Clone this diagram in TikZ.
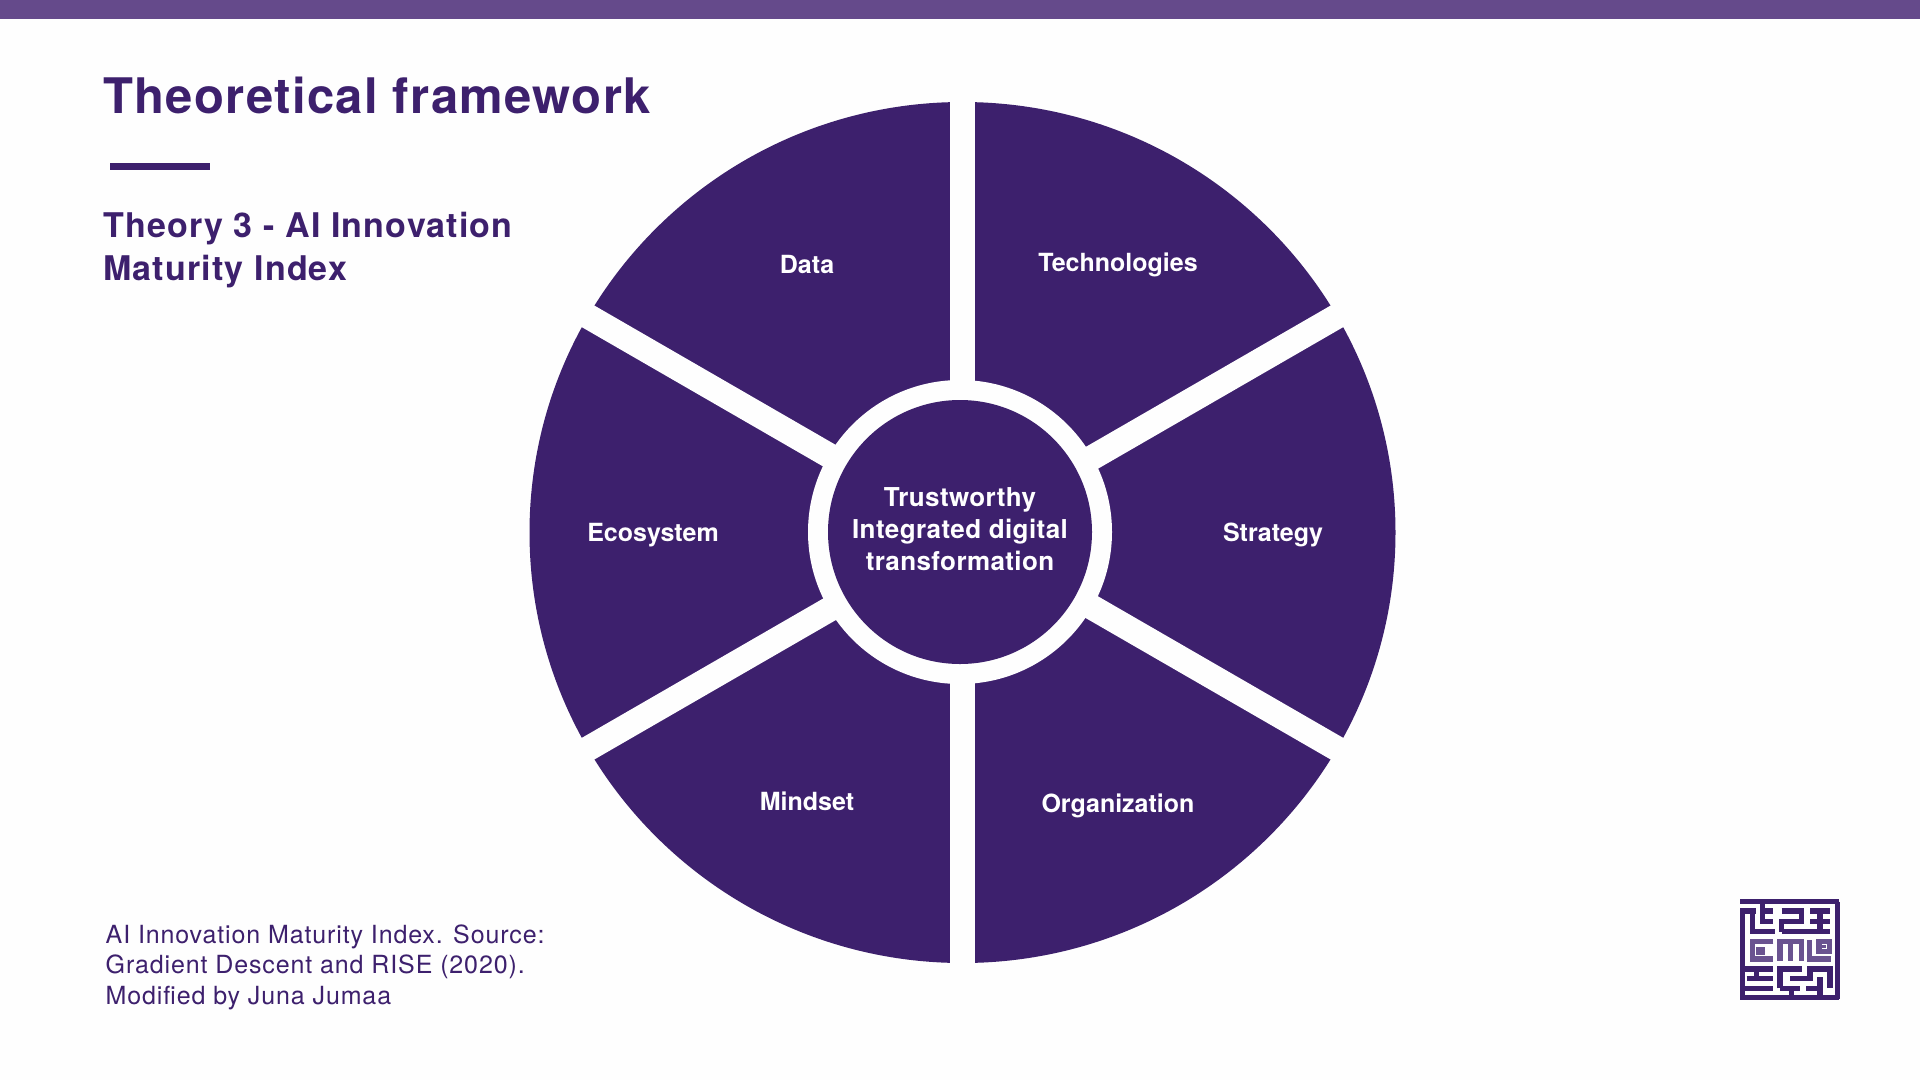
\documentclass[tikz,border=0pt]{standalone}
\usepackage{fontspec}
\newfontfamily\titlef[LetterSpace=2.7]{TeX Gyre Heros Bold}
\newfontfamily\headf[LetterSpace=3.5]{TeX Gyre Heros Bold}
\newfontfamily\labf{TeX Gyre Heros Bold}
\newfontfamily\coref[LetterSpace=1.5]{TeX Gyre Heros Bold}
\newfontfamily\notef[LetterSpace=3.5]{TeX Gyre Heros}
\definecolor{ink}{HTML}{3D206D}
\definecolor{band}{HTML}{654A8B}
\definecolor{mazesoft}{HTML}{6A5390}
\definecolor{paper}{HTML}{FEFEFE}
\tikzset{
  heading/.style={anchor=base west,inner sep=0pt,text=ink,align=left},
  seglabel/.style={inner sep=0pt,text=white,font=\labf\fontsize{25}{32}\selectfont,align=center},
  gapbar/.style={draw=paper,line width=25pt},
  mazeline/.style={draw=ink,line width=5.5pt,line cap=butt,line join=miter},
  mazemid/.style={draw=mazesoft,line width=5.5pt,line cap=butt,line join=miter},
}
\begin{document}
\begin{tikzpicture}[x=1pt,y=-1pt]
\useasboundingbox (0,0) rectangle (1920,1080);
\fill[paper] (0,0) rectangle (1920,1080);
\fill[band] (0,0) rectangle (1920,19);
% wheel
\coordinate (hub) at (962.5,532.5);
\fill[ink] (hub) ellipse[x radius=433pt,y radius=430.5pt];
\draw[gapbar] ([shift={(90:445pt)}]hub) -- ([shift={(-90:445pt)}]hub);
\draw[gapbar] ([shift={(30:445pt)}]hub) -- ([shift={(210:445pt)}]hub);
\draw[gapbar] ([shift={(150:445pt)}]hub) -- ([shift={(-30:445pt)}]hub);
\coordinate (core) at (960,532);
\fill[paper] (core) circle[radius=152pt];
\fill[ink] (core) circle[radius=132pt];
\node[seglabel,font=\coref\fontsize{26}{32}\selectfont] (centretext) at (960,529) {Trustworthy\\Integrated digital\\transformation};
\node[seglabel] (tech) at (1118,265) {Technologies};
\node[seglabel] (data) at (807,264) {Data};
\node[seglabel] (strat) at (1273,535) {Strategy};
\node[seglabel] (eco) at (653,535) {Ecosystem};
\node[seglabel] (org) at (1118,806) {Organization};
\node[seglabel] (mind) at (807,801) {Mindset};
% heading
\node[heading,font=\titlef\fontsize{49}{49}\selectfont] (title) at (103,113) {Theoretical framework};
\fill[ink] (110,163) rectangle (210,170);
\node[heading,font=\headf\fontsize{34}{43}\selectfont] (sub1) at (103,237) {Theory 3 - AI Innovation};
\node[heading,font=\headf\fontsize{34}{43}\selectfont] (sub2) at (103,280) {Maturity Index};
\node[heading,font=\notef\fontsize{25}{30}\selectfont] (n1) at (105.5,943) {AI Innovation Maturity Index. Source:};
\node[heading,font=\notef\fontsize{25}{30}\selectfont] (n2) at (105.5,973) {Gradient Descent and RISE (2020).};
\node[heading,font=\notef\fontsize{25}{30}\selectfont] (n3) at (105.5,1004) {Modified by Juna Jumaa};
% maze logo
\begin{scope}[shift={(1720,890)},x=0.33333pt,y=-0.33333pt]
\draw[mazeline] (60,35) -- (358,35);
\draw[mazeline] (352,35) -- (352,328);
\draw[mazeline] (60,322) -- (358,322);
\draw[mazeline] (67,63) -- (67,328);
\draw[mazeline] (60,63) -- (108,63);
\draw[mazeline] (97,63) -- (97,125) -- (165,125);
\draw[mazeline] (127,35) -- (127,95) -- (160,95);
\draw[mazeline] (127,63) -- (160,63);
\draw[mazeline] (185,63) -- (245,63) -- (245,95) -- (185,95) -- (185,125);
\draw[mazeline] (185,125) -- (300,125);
\draw[mazeline] (270,63) -- (330,63);
\draw[mazeline] (300,63) -- (300,125);
\draw[mazeline] (270,95) -- (330,95);
\draw[mazeline] (300,125) -- (330,125);
\draw[mazemid] (160,155) -- (97,155) -- (97,207) -- (160,207);
\draw[mazemid] (135,178) -- (116,178) -- (116,187) -- (135,187);
\draw[mazemid] (180,212) -- (180,155) -- (245,155) -- (245,212);
\draw[mazemid] (212,155) -- (212,212);
\draw[mazemid] (268,150) -- (268,207) -- (332,207);
\draw[mazemid] (297,155) rectangle (328,185);
\fill[mazesoft] (307,165) rectangle (318,175);
\draw[mazeline] (75,237) -- (160,237);
\draw[mazeline] (80,265) -- (160,265);
\draw[mazeline] (110,237) -- (110,265);
\draw[mazeline] (75,295) -- (160,295);
\draw[mazeline] (180,295) -- (180,237) -- (245,237);
\draw[mazeline] (180,295) -- (240,295);
\draw[mazeline] (210,265) -- (270,265) -- (270,237) -- (330,237) -- (330,295);
\draw[mazeline] (300,262) -- (300,322);
\draw[mazeline] (258,295) -- (300,295);
\draw[mazeline] (215,295) -- (215,322);
\end{scope}
\end{tikzpicture}
\end{document}
